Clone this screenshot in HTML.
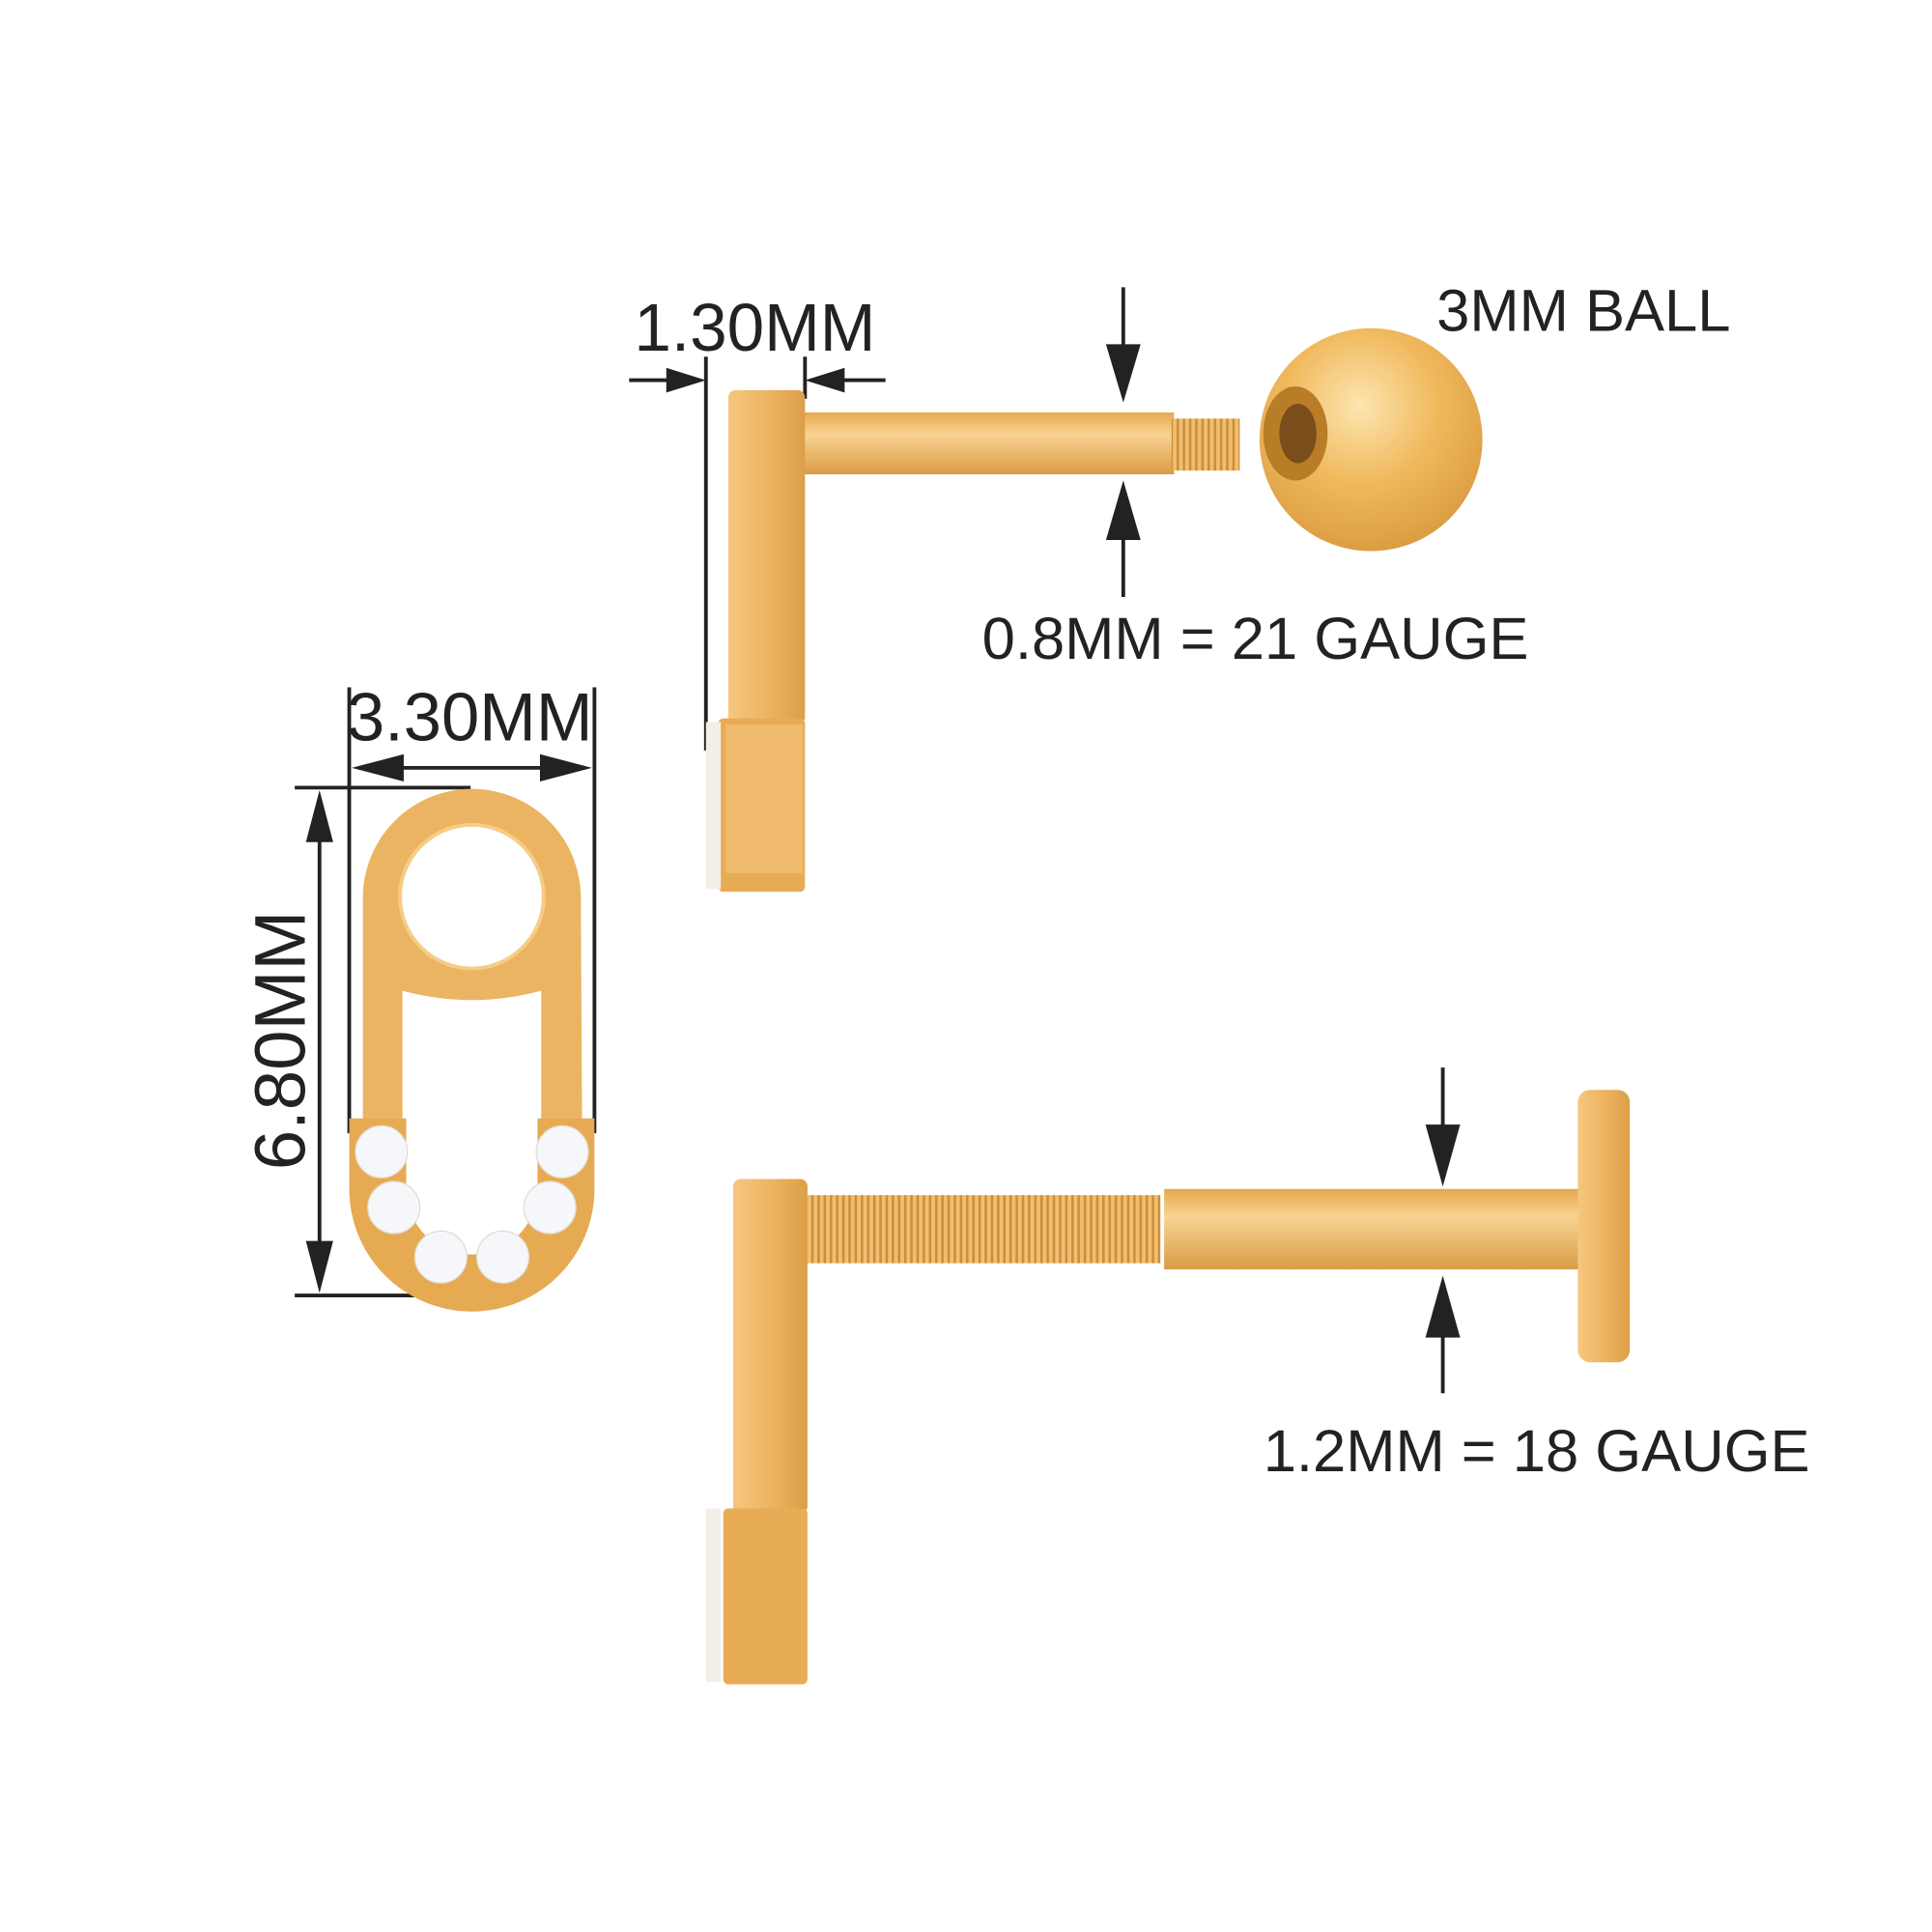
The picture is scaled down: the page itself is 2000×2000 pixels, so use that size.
<!DOCTYPE html>
<html><head><meta charset="utf-8"><style>
html,body{margin:0;padding:0;background:#fff;}
svg{display:block;}
text{font-family:"Liberation Sans",sans-serif;fill:#222;}
</style></head><body>
<svg width="2000" height="2000" viewBox="0 0 1560 1560" xmlns="http://www.w3.org/2000/svg">
<defs>
<linearGradient id="gv" x1="0" y1="0" x2="1" y2="0">
<stop offset="0" stop-color="#f5c77e"/><stop offset="0.5" stop-color="#edb462"/><stop offset="1" stop-color="#dc9f48"/></linearGradient>
<linearGradient id="gh" x1="0" y1="0" x2="0" y2="1">
<stop offset="0" stop-color="#e5a94f"/><stop offset="0.35" stop-color="#f8d391"/><stop offset="1" stop-color="#d99c45"/></linearGradient>
<radialGradient id="gb" cx="0.45" cy="0.35" r="0.7">
<stop offset="0" stop-color="#fce6b0"/><stop offset="0.5" stop-color="#f0b85c"/><stop offset="1" stop-color="#d9993e"/></radialGradient>
<pattern id="thr" width="5" height="10" patternUnits="userSpaceOnUse">
<rect width="5" height="10" fill="#f0be70"/><rect width="2" height="10" fill="#cc8e3a"/></pattern>
</defs>
<g stroke="#222" stroke-width="3" fill="none">
<line x1="570" y1="288" x2="570" y2="606"/><line x1="650" y1="288" x2="650" y2="322"/>
<line x1="508" y1="307" x2="548" y2="307"/><line x1="675" y1="307" x2="715" y2="307"/>
<line x1="907" y1="232" x2="907" y2="285"/><line x1="907" y1="430" x2="907" y2="482"/>
<line x1="282" y1="555" x2="282" y2="915"/><line x1="480" y1="555" x2="480" y2="915"/>
<line x1="300" y1="620" x2="462" y2="620"/>
<line x1="238" y1="636" x2="380" y2="636"/><line x1="238" y1="1046" x2="380" y2="1046"/>
<line x1="258" y1="660" x2="258" y2="1022"/>
<line x1="1165" y1="862" x2="1165" y2="915"/><line x1="1165" y1="1075" x2="1165" y2="1125"/>
</g>
<g fill="#222">
<polygon points="570,307 538,297 538,317"/><polygon points="650,307 682,297 682,317"/>
<polygon points="907,325 893,278 921,278"/><polygon points="907,388 893,436 921,436"/>
<polygon points="284,620 326,609 326,631"/><polygon points="478,620 436,609 436,631"/>
<polygon points="258,638 247,680 269,680"/><polygon points="258,1044 247,1002 269,1002"/>
<polygon points="1165,958 1151,908 1179,908"/><polygon points="1165,1030 1151,1080 1179,1080"/>
</g>
<text x="512" y="283" font-size="54">1.30MM</text>
<text x="1160" y="267" font-size="48">3MM BALL</text>
<text x="793" y="532" font-size="48">0.8MM = 21 GAUGE</text>
<text x="280" y="598" font-size="55">3.30MM</text>
<text x="1020" y="1188" font-size="48">1.2MM = 18 GAUGE</text>
<text transform="translate(246,840) rotate(-90)" font-size="58" text-anchor="middle">6.80MM</text>

<rect x="648" y="333" width="300" height="50" fill="url(#gh)"/>
<rect x="946" y="338" width="55" height="42" fill="url(#thr)"/>
<rect x="588" y="315" width="62" height="270" rx="6" fill="url(#gv)"/>
<rect x="580" y="580" width="70" height="140" rx="4" fill="#e8ac57"/>
<rect x="586" y="585" width="62" height="120" fill="#f0bb6c"/>
<rect x="570" y="583" width="12" height="135" fill="#f4efe6"/>
<circle cx="1107" cy="355" r="90" fill="url(#gb)"/>
<ellipse cx="1046" cy="350" rx="26" ry="38" fill="#b97d28"/>
<ellipse cx="1048" cy="350" rx="15" ry="24" fill="#7a4e1a"/>

<path d="M293,725 A88,88 0 0 1 469,725 L470,905 L437,905 L437,800 Q381,815 325,800 L325,905 L293,905 Z" fill="#ebb463"/>
<circle cx="381" cy="724" r="58" fill="#fff" stroke="#f5cd86" stroke-width="3"/>
<path d="M282,903 L328,903 L328,960 A53,53 0 0 0 434,960 L434,903 L480,903 L480,960 A99,99 0 0 1 282,960 Z" fill="#e6aa52"/>
<g fill="#f6f7fa" stroke="#e2dcd2" stroke-width="1">
<circle cx="308" cy="930" r="21"/><circle cx="318" cy="975" r="21"/><circle cx="356" cy="1015" r="21"/>
<circle cx="406" cy="1015" r="21"/><circle cx="444" cy="975" r="21"/><circle cx="454" cy="930" r="21"/></g>

<rect x="652" y="965" width="285" height="55" fill="url(#thr)"/>
<rect x="940" y="960" width="340" height="65" fill="url(#gh)"/>
<rect x="1274" y="880" width="42" height="220" rx="10" fill="url(#gv)"/>
<rect x="592" y="952" width="60" height="270" rx="6" fill="url(#gv)"/>
<rect x="584" y="1218" width="68" height="142" rx="4" fill="#e8ac57"/>
<rect x="570" y="1218" width="12" height="140" fill="#f4efe6"/>
</svg>
</body></html>
